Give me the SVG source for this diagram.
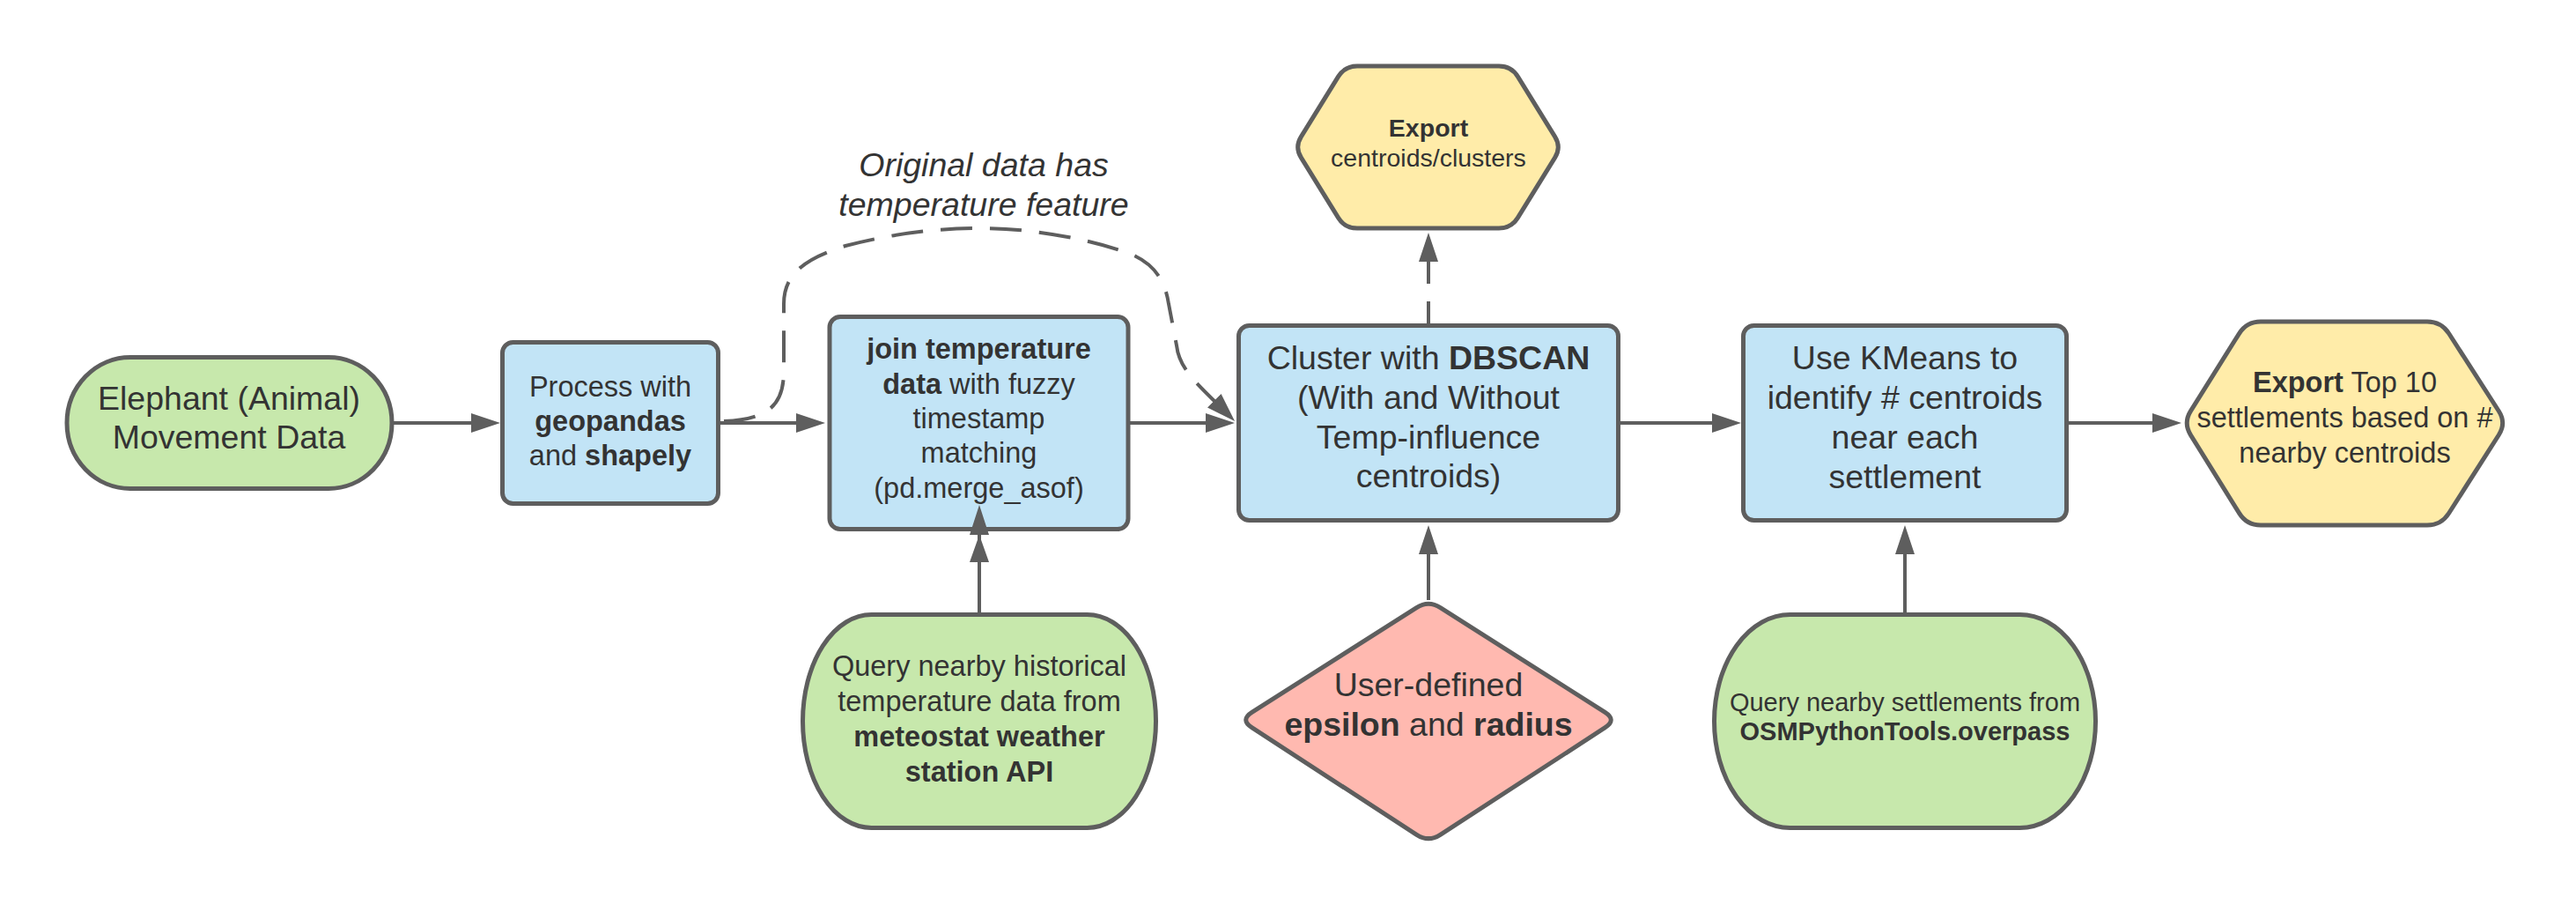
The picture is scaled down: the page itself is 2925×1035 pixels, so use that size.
<svg xmlns="http://www.w3.org/2000/svg" width="2925" height="1035" viewBox="0 0 2925 1035">
<style>
.n{stroke:#5e5e5e;stroke-width:5;stroke-linejoin:round}
.blue{fill:#c2e4f6}
.green{fill:#c7e8ac}
.yellow{fill:#ffeca9}
.pink{fill:#ffb9b0}
text{font-family:"Liberation Sans",Arial,Helvetica,sans-serif;fill:#333333;text-anchor:middle}
.b{font-weight:700}
.c{fill:none;stroke:#5e5e5e;stroke-width:4}
.d{stroke-dasharray:36 20}
</style>
<defs>
<marker id="ah" viewBox="0 0 33 22" refX="23" refY="11" markerWidth="33" markerHeight="22" markerUnits="userSpaceOnUse" orient="auto">
<path d="M0,0 L33,11 L0,22 z" fill="#5e5e5e"/>
</marker>
<marker id="ah2" viewBox="0 0 65 22" refX="55" refY="11" markerWidth="65" markerHeight="22" markerUnits="userSpaceOnUse" orient="auto">
<path d="M0,0 L31,11 L0,22 z M31,0 L65,11 L31,22 z" fill="#5e5e5e"/>
</marker>
</defs>
<rect width="2925" height="1035" fill="#ffffff"/>

<g id="elephant">
<rect class="n green" x="76" y="405.5" width="369" height="149" rx="72" ry="74.5"/>
<text font-size="37.5"><tspan x="260" y="465">Elephant (Animal)</tspan><tspan x="260" y="509">Movement Data</tspan></text>
</g>

<g id="process">
<rect class="n blue" x="570.5" y="388.5" width="245" height="183" rx="12"/>
<text font-size="32.5"><tspan x="693" y="450">Process with</tspan><tspan x="693" y="489" class="b">geopandas</tspan><tspan x="693" y="528">and <tspan class="b">shapely</tspan></tspan></text>
</g>

<g id="join">
<rect class="n blue" x="942" y="359.5" width="339" height="241" rx="12"/>
<text font-size="32.5"><tspan x="1111.5" y="407" class="b">join temperature</tspan><tspan x="1111.5" y="447"><tspan class="b">data</tspan> with fuzzy</tspan><tspan x="1111.5" y="486">timestamp</tspan><tspan x="1111.5" y="525">matching</tspan><tspan x="1111.5" y="565">(pd.merge_asof)</tspan></text>
</g>

<g id="cluster">
<rect class="n blue" x="1406.5" y="369.5" width="431" height="221" rx="12"/>
<text font-size="37.5"><tspan x="1622" y="419">Cluster with <tspan class="b">DBSCAN</tspan></tspan><tspan x="1622" y="464">(With and Without</tspan><tspan x="1622" y="509">Temp-influence</tspan><tspan x="1622" y="553">centroids)</tspan></text>
</g>

<g id="kmeans">
<rect class="n blue" x="1979.5" y="369.5" width="367" height="221" rx="12"/>
<text font-size="37.5"><tspan x="2163" y="419">Use KMeans to</tspan><tspan x="2163" y="464">identify # centroids</tspan><tspan x="2163" y="509">near each</tspan><tspan x="2163" y="554">settlement</tspan></text>
</g>

<g id="export-centroids">
<path class="n yellow" d="M1541,75 L1702,75 Q1716,75 1723.4,86.9 L1765.6,155.1 Q1773,167 1765.6,178.9 L1723.4,247.1 Q1716,259 1702,259 L1541,259 Q1527,259 1519.6,247.1 L1477.4,178.9 Q1470,167 1477.4,155.1 L1519.6,86.9 Q1527,75 1541,75 Z"/>
<text font-size="28.5"><tspan x="1622" y="155" class="b">Export</tspan><tspan x="1622" y="188.5">centroids/clusters</tspan></text>
</g>

<g id="export-top10">
<path class="n yellow" d="M2567,365 L2756,365 Q2772,365 2780.7,378.5 L2837.3,466.5 Q2846,480 2837.4,493.5 L2780.6,582.5 Q2772,596 2756,596 L2567,596 Q2551,596 2542.6,582.4 L2487.4,493.6 Q2479,480 2487.5,466.4 L2542.5,378.6 Q2551,365 2567,365 Z"/>
<text font-size="32.5"><tspan x="2662.5" y="445"><tspan class="b">Export</tspan> Top 10</tspan><tspan x="2662.5" y="485">settlements based on #</tspan><tspan x="2662.5" y="525">nearby centroids</tspan></text>
</g>

<g id="query-temperature">
<rect class="n green" x="911.5" y="697.5" width="401" height="242" rx="78" ry="121"/>
<text font-size="32.5"><tspan x="1112" y="767">Query nearby historical</tspan><tspan x="1112" y="807">temperature data from</tspan><tspan x="1112" y="847" class="b">meteostat weather</tspan><tspan x="1112" y="887" class="b">station API</tspan></text>
</g>

<g id="user-defined">
<path class="n pink" d="M1635.5,689.6 L1822.5,808.4 Q1836,817 1822.6,825.7 L1635.4,947.3 Q1622,956 1608.6,947.3 L1421.4,825.7 Q1408,817 1421.5,808.4 L1608.5,689.6 Q1622,681 1635.5,689.6 Z"/>
<text font-size="37.5"><tspan x="1622" y="790">User-defined</tspan><tspan x="1622" y="835"><tspan class="b">epsilon</tspan> and <tspan class="b">radius</tspan></tspan></text>
</g>

<g id="query-settlements">
<rect class="n green" x="1946.5" y="697.5" width="433" height="242" rx="86" ry="121"/>
<text font-size="29"><tspan x="2163" y="807">Query nearby settlements from</tspan><tspan x="2163" y="840" class="b">OSMPythonTools.overpass</tspan></text>
</g>

<g id="label-original">
<text font-size="37.5" font-style="italic"><tspan x="1117" y="200">Original data has</tspan><tspan x="1117" y="245">temperature feature</tspan></text>
</g>

<g id="connectors">
<path class="c" d="M447,480 H558" marker-end="url(#ah)"/>
<path class="c" d="M817,480 H927" marker-end="url(#ah)"/>
<path class="c" d="M1283,480 H1392" marker-end="url(#ah)"/>
<path class="c" d="M1840,480 H1967" marker-end="url(#ah)"/>
<path class="c" d="M2349,480 H2467" marker-end="url(#ah)"/>
<path class="c" d="M1112,695 V583" marker-end="url(#ah2)"/>
<path class="c" d="M1622,681 V606" marker-end="url(#ah)"/>
<path class="c" d="M2163,695 V606" marker-end="url(#ah)"/>
<path class="c d" stroke-dashoffset="11" d="M1622,367 V274" marker-end="url(#ah)"/>
<path class="c d" d="M822,478 C878,476 890,455 890,420 L890,345 C890,312 912,294 960,279 C1010,266 1060,259 1112,259 C1170,259 1230,270 1278,286 C1310,297 1323,318 1327,345 L1336,392 C1339,420 1362,438 1395,471" marker-end="url(#ah)"/>
</g>
</svg>
